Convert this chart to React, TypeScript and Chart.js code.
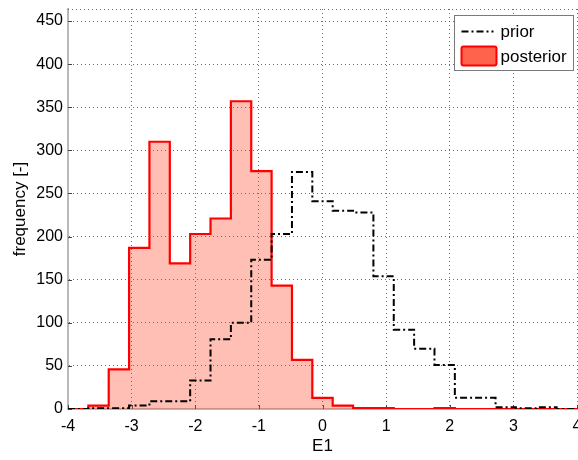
import React, { useEffect, useRef } from "react";
import { Chart, registerables } from "chart.js";

Chart.register(...registerables);

// Histogram bin edges (shared by both series)
const binEdges = [-4, -3.68, -3.36, -3.04, -2.72, -2.4, -2.08, -1.76, -1.44, -1.12, -0.8, -0.48, -0.16, 0.16, 0.48, 0.8, 1.12, 1.44, 1.76, 2.08, 2.4, 2.72, 3.04, 3.36, 3.68, 4];
// Counts per bin
const priorCounts = [0, 1, 1, 4, 9, 9, 33, 81, 100, 173, 203, 275, 241, 230, 228, 154, 92, 70, 51, 13, 13, 2, 1, 2, 0];
const posteriorCounts = [0, 4, 46, 187, 310, 169, 203, 221, 357, 276, 143, 57, 13, 4, 1, 1, 0, 0, 1, 0, 0, 0, 0, 0, 0];
// Ticks
const xTicks = [-4, -3, -2, -1, 0, 1, 2, 3, 4];
const yTicks = [0, 50, 100, 150, 200, 250, 300, 350, 400, 450];
const seriesLabels = ["prior", "posterior"];
const xTitle = "E1";
const yTitle = "frequency [-]";

const FONT = "'Liberation Sans', Arial, Helvetica, sans-serif";
const GRID_COLOR = "rgba(60,60,60,0.75)";
const GRID_DASH = [1, 3];
const AXIS_COLOR = "#b8b8b8";

function toSteps(counts: number[]) {
  return binEdges.map((e, i) => ({ x: e, y: i < counts.length ? counts[i] : 0 }));
}

const framePlugin = {
  id: "frame",
  beforeDatasetsDraw(chart: any) {
    const { ctx, chartArea: a, scales } = chart;
    ctx.save();
    ctx.strokeStyle = GRID_COLOR;
    ctx.lineWidth = 1;
    ctx.setLineDash(GRID_DASH);
    ctx.beginPath();
    ctx.moveTo(a.left, Math.round(a.top) + 0.5);
    ctx.lineTo(a.right, Math.round(a.top) + 0.5);
    ctx.stroke();
    ctx.setLineDash([]);
    ctx.strokeStyle = "#444";
    ctx.lineWidth = 1;
    ctx.beginPath();
    for (const v of xTicks) {
      const px = Math.round(scales.x.getPixelForValue(v)) + 0.5;
      ctx.moveTo(px, a.bottom);
      ctx.lineTo(px, a.bottom - 4);
    }
    for (const v of yTicks) {
      const py = Math.round(scales.y.getPixelForValue(v)) + 0.5;
      ctx.moveTo(a.left, py);
      ctx.lineTo(a.left + 4, py);
    }
    ctx.stroke();
    ctx.restore();
  },
  afterDraw(chart: any) {
    const { ctx, chartArea: a } = chart;
    ctx.save();
    const w = 119;
    const h = 55;
    const left = Math.round(a.right - 4 - w) + 0.5;
    const top = Math.round(a.top + 6) + 0.5;
    ctx.fillStyle = "#ffffff";
    ctx.fillRect(left, top, w, h);
    ctx.strokeStyle = "#7a7a7a";
    ctx.lineWidth = 1;
    ctx.strokeRect(left, top, w, h);
    ctx.strokeStyle = "#000";
    ctx.lineWidth = 2;
    ctx.setLineDash([7, 3, 2, 3]);
    ctx.beginPath();
    ctx.moveTo(left + 7, top + 16);
    ctx.lineTo(left + 39, top + 16);
    ctx.stroke();
    ctx.setLineDash([]);
    ctx.fillStyle = "rgb(255,99,75)";
    ctx.strokeStyle = "#ff0000";
    ctx.lineWidth = 2;
    ctx.beginPath();
    (ctx as any).roundRect(left + 7, top + 31, 35, 19, 2);
    ctx.fill();
    ctx.stroke();
    ctx.fillStyle = "#000";
    ctx.font = `17px ${FONT}`;
    ctx.textBaseline = "middle";
    ctx.textAlign = "left";
    ctx.fillText(seriesLabels[0], left + 46, top + 17);
    ctx.fillText(seriesLabels[1], left + 46, top + 42);
    ctx.restore();
  },
};

export default function App() {
  const ref = useRef<HTMLCanvasElement | null>(null);
  useEffect(() => {
    document.body.style.margin = "0";
    const canvas = ref.current;
    if (!canvas) return;
    const chart = new Chart(canvas, {
      type: "line",
      data: {
        datasets: [
          {
            label: seriesLabels[0],
            data: toSteps(priorCounts),
            stepped: true,
            borderColor: "#000000",
            borderWidth: 2,
            borderDash: [7, 3, 2, 3],
            pointRadius: 0,
            fill: false,
          },
          {
            label: seriesLabels[1],
            data: toSteps(posteriorCounts),
            stepped: true,
            borderColor: "#ff0000",
            borderWidth: 2.2,
            backgroundColor: "rgba(255,60,30,0.33)",
            pointRadius: 0,
            fill: "origin",
          },
        ],
      },
      options: {
        animation: false,
        responsive: false,
        devicePixelRatio: 1,
        layout: { padding: { left: 0, right: 1, top: 9, bottom: 0 } },
        plugins: {
          legend: { display: false },
          tooltip: { enabled: false },
        },
        scales: {
          x: {
            type: "linear",
            min: -4,
            max: 4,
            afterBuildTicks: (s: any) => {
              s.ticks = xTicks.map((v) => ({ value: v }));
            },
            afterFit: (s: any) => {
              s.height = 51;
              s.paddingLeft = 0;
              s.paddingRight = 0;
            },
            grid: { color: GRID_COLOR, drawTicks: false, lineWidth: 1 },
            border: { display: true, color: AXIS_COLOR, width: 2, dash: GRID_DASH },
            ticks: {
              padding: 8,
              color: "#000",
              font: { family: FONT, size: 16 },
              maxRotation: 0,
              autoSkip: false,
              callback: (v: any) => String(v),
            },
            title: {
              display: true,
              text: xTitle,
              color: "#000",
              font: { family: FONT, size: 17 },
              padding: { top: 0, bottom: 3 },
            },
          },
          y: {
            type: "linear",
            min: 0,
            max: 464,
            afterBuildTicks: (s: any) => {
              s.ticks = yTicks.map((v) => ({ value: v }));
            },
            afterFit: (s: any) => {
              s.width = 68;
              s.paddingTop = 0;
              s.paddingBottom = 0;
            },
            grid: { color: GRID_COLOR, drawTicks: false, lineWidth: 1 },
            border: { display: true, color: AXIS_COLOR, width: 2, dash: GRID_DASH },
            ticks: {
              padding: 5,
              color: "#000",
              font: { family: FONT, size: 16 },
              autoSkip: false,
              callback: (v: any) => String(v),
            },
            title: {
              display: true,
              text: yTitle,
              color: "#000",
              font: { family: FONT, size: 17 },
              padding: { top: 10, bottom: 0 },
            },
          },
        },
      },
      plugins: [framePlugin],
    } as any);
    return () => chart.destroy();
  }, []);
  return (
    <div style={{ position: "fixed", left: 0, top: 0, width: 578, height: 460, background: "#fff" }}>
      <canvas ref={ref} width={578} height={460} style={{ display: "block" }} />
    </div>
  );
}
